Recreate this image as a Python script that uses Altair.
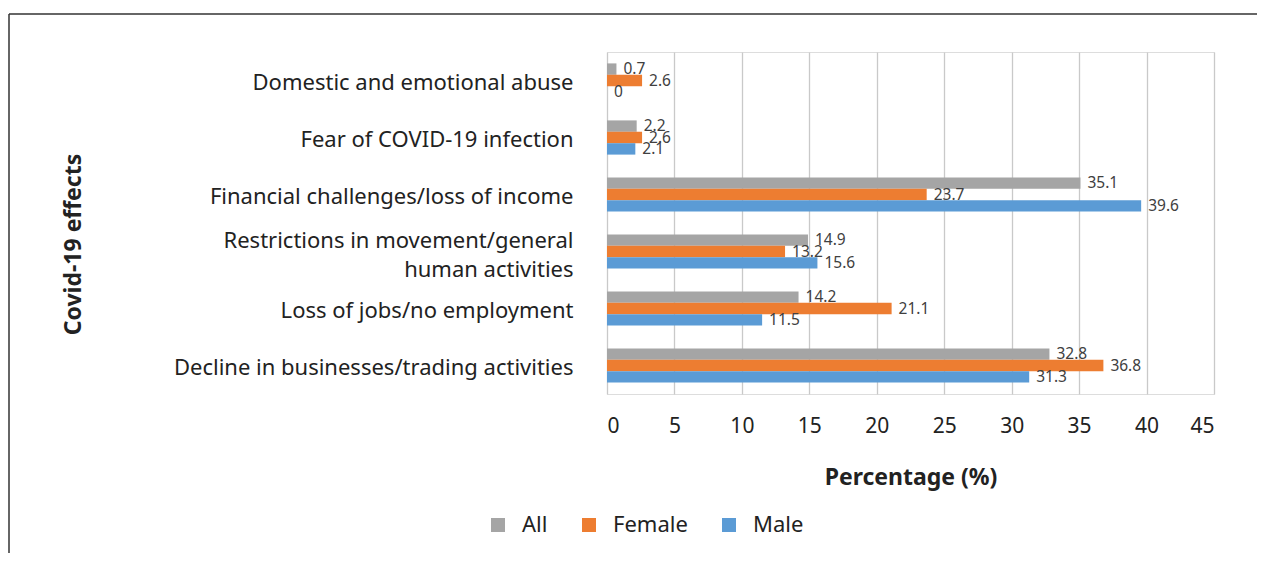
import altair as alt
import pandas as pd

categories = [
    "Domestic and emotional abuse",
    "Fear of COVID-19 infection",
    "Financial challenges/loss of income",
    "Restrictions in movement/general human activities",
    "Loss of jobs/no employment",
    "Decline in businesses/trading activities",
]
series = ["All", "Female", "Male"]
all_vals = [0.7, 2.2, 35.1, 14.9, 14.2, 32.8]
female_vals = [2.6, 2.6, 23.7, 13.2, 21.1, 36.8]
male_vals = [0, 2.1, 39.6, 15.6, 11.5, 31.3]
colors = ["#A5A5A5", "#ED7D31", "#5B9BD5"]
x_ticks = [0, 5, 10, 15, 20, 25, 30, 35, 40, 45]

rows = []
for s, vals in zip(series, [all_vals, female_vals, male_vals]):
    for c, v in zip(categories, vals):
        rows.append({"effect": c, "group": s, "value": v})
df = pd.DataFrame(rows)

FONT = "Noto Sans"
WRAPPED = "Restrictions in movement/general human activities"

label_expr = (
    f"datum.label == '{WRAPPED}' ? "
    "['Restrictions in movement/general', 'human activities'] : datum.label"
)

y_enc = alt.Y(
    "effect:N",
    sort=categories,
    scale=alt.Scale(paddingInner=0.4, paddingOuter=0.2),
    axis=alt.Axis(
        title="Covid-19 effects",
        titleFontSize=23,
        titleFontWeight="bold",
        titleColor="#222222",
        titleFont=FONT,
        titleAngle=-90,
        titleX=-534,
        titleY=192,
        titleAlign="center",
        titleBaseline="middle",
        labelFont=FONT,
        labelFontSize=22,
        labelColor="#222222",
        labelPadding=34,
        labelLimit=0,
        labelExpr=label_expr,
        labelLineHeight=29,
        labelOffset={"condition": {"test": f"datum.value == '{WRAPPED}'", "value": -11}, "value": 2},
        ticks=False,
        tickSize=0,
        domain=False,
        grid=False,
    ),
)

x_enc = alt.X(
    "value:Q",
    scale=alt.Scale(domain=[0, 45], nice=False),
    axis=alt.Axis(
        values=x_ticks,
        title="Percentage (%)",
        titleFontSize=23,
        titleFontWeight="bold",
        titleColor="#222222",
        titleFont=FONT,
        titleY=83,
        titleBaseline="middle",
        labelFont=FONT,
        labelFontSize=21,
        labelColor="#222222",
        labelPadding=21,
        ticks=False,
        tickSize=0,
        domain=False,
        grid=True,
        gridColor="#c9c9c9",
        gridWidth=1.3,
    ),
)

yoff = alt.YOffset("group:N", sort=series, scale=alt.Scale(paddingInner=0, paddingOuter=0))

bars = alt.Chart(df).mark_bar().encode(
    x=x_enc,
    y=y_enc,
    yOffset=yoff,
    color=alt.Color(
        "group:N",
        sort=series,
        scale=alt.Scale(domain=series, range=colors),
        legend=alt.Legend(
            title=None,
            orient="none",
            direction="horizontal",
            legendX=-120,
            legendY=462,
            symbolType="square",
            symbolSize=196,
            symbolStrokeWidth=0,
            labelFont=FONT,
            labelFontSize=22,
            labelColor="#222222",
            labelOffset=13,
            columnPadding=30,
            padding=0,
        ),
    ),
)

labels = alt.Chart(df).mark_text(
    align="left", baseline="middle", dx=7, fontSize=15.5, font=FONT, color="#404040"
).encode(
    x="value:Q",
    y=alt.Y("effect:N", sort=categories),
    yOffset=yoff,
    text=alt.Text("value:Q", format=".1~f"),
)

frame_data = alt.Data(values=[{"k": 1}])
frame_top = alt.Chart(frame_data).mark_rule(color="#333333", strokeWidth=1.5).encode(
    x=alt.value(-598), x2=alt.value(660), y=alt.value(-38)
)
frame_left = alt.Chart(frame_data).mark_rule(color="#333333", strokeWidth=1.5).encode(
    x=alt.value(-598), y=alt.value(-38), y2=alt.value(520)
)

chart = (
    alt.layer(bars, labels, frame_top, frame_left)
    .properties(
        width=607,
        height=342,
        autosize=alt.AutoSizeParams(type="none"),
        padding={"left": 599, "top": 44, "right": 43, "bottom": 159},
    )
    .configure_view(stroke=None)
    .configure(background="white")
)

chart.save("out.html", embed_options={"renderer": "svg", "actions": False})
